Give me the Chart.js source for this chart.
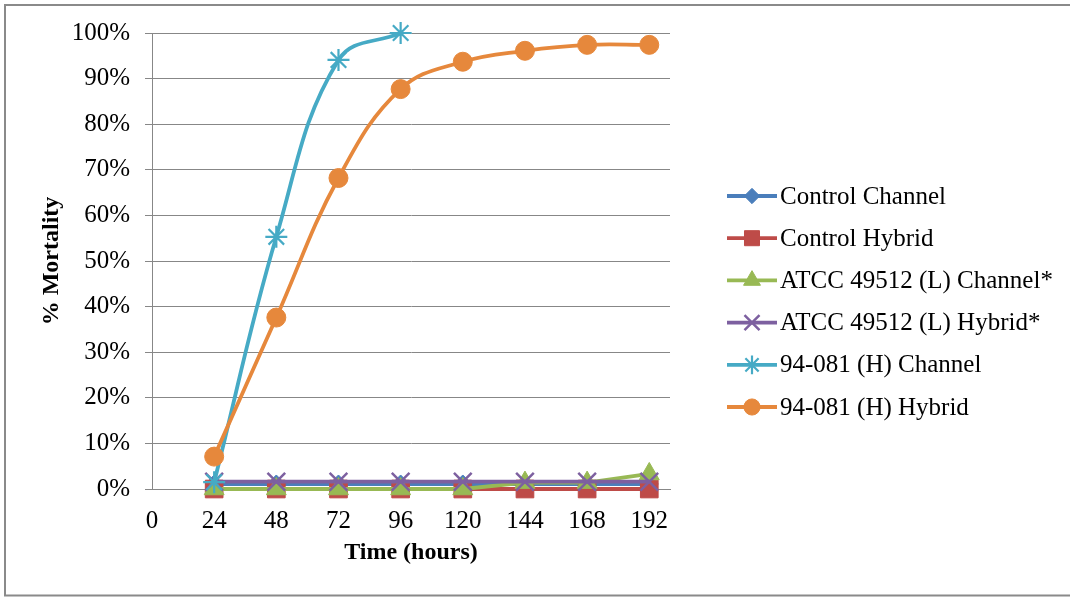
<!DOCTYPE html>
<html>
<head>
<meta charset="utf-8">
<script src="https://cdn.jsdelivr.net/npm/chart.js@4/dist/chart.umd.min.js"></script>
<style>
  html, body { margin: 0; padding: 0; background: #fff; overflow: hidden; }
  canvas { display: block; }
</style>
</head>
<body>
<canvas id="c" width="1070" height="597"></canvas>
<script>
// ---- data ----
const hours = [24, 48, 72, 96, 120, 144, 168, 192];
const xTickLabels = [0, 24, 48, 72, 96, 120, 144, 168, 192];
const seriesNames = [
  "Control Channel",
  "Control Hybrid",
  "ATCC 49512 (L) Channel*",
  "ATCC 49512 (L) Hybrid*",
  "94-081 (H) Channel",
  "94-081 (H) Hybrid"
];
const controlChannel = [1.1, 1.1, 1.1, 1.1, 1.1, 1.1, 1.1, 1.1];
const controlHybrid  = [0, 0, 0, 0, 0, 0, 0, 0];
const atccChannel    = [0, 0, 0, 0, 0, 1.4, 1.4, 3.3];
const atccHybrid     = [1.6, 1.6, 1.6, 1.6, 1.6, 1.6, 1.6, 1.6];
const h94Channel     = [1.5, 55.3, 94.1, 100, null, null, null, null];
const h94Hybrid      = [7.1, 37.6, 68.2, 87.7, 93.7, 96.1, 97.4, 97.4];
const yTicks = [0, 10, 20, 30, 40, 50, 60, 70, 80, 90, 100];

const seriesValues = [controlChannel, controlHybrid, atccChannel, atccHybrid, h94Channel, h94Hybrid];
const colors = ['#4A7EBB', '#BE4B48', '#98B954', '#7D60A0', '#46AAC5', '#E6883C'];
const styles = [
  { pointStyle: 'rectRot', r: 9, bw: 1, tension: 0 },
  { pointStyle: 'rect', r: 12.5, bw: 1, tension: 0 },
  { pointStyle: 'triangle', r: 11.5, bw: 1, tension: 0 },
  { pointStyle: 'crossRot', r: 12.5, bw: 2.5, tension: 0 },
  { pointStyle: 'star', r: 11, bw: 2.2, tension: 0.4 },
  { pointStyle: 'circle', r: 9.5, bw: 1, tension: 0.4 }
];

const FONT = "'Liberation Serif', 'Times New Roman', serif";

const datasets = seriesNames.map((name, i) => ({
  label: name,
  data: hours.map((h, k) => ({ x: h, y: seriesValues[i][k] })).filter(p => p.y !== null),
  borderColor: colors[i],
  backgroundColor: colors[i],
  pointBackgroundColor: colors[i],
  pointBorderColor: colors[i],
  pointStyle: styles[i].pointStyle,
  pointRadius: styles[i].r,
  pointBorderWidth: styles[i].bw,
  borderWidth: 3.8,
  showLine: true,
  clip: false,
  tension: styles[i].tension,
  order: seriesNames.length - i
}));

const framePlugin = {
  id: 'frame',
  beforeDraw(chart) {
    const ctx = chart.ctx;
    ctx.save();
    ctx.strokeStyle = '#8a8a8a';
    ctx.lineWidth = 2;
    ctx.beginPath();
    ctx.moveTo(1070, 5);
    ctx.lineTo(5, 5);
    ctx.lineTo(5, 595.5);
    ctx.lineTo(1070, 595.5);
    ctx.stroke();
    ctx.restore();
  }
};

const legendPlugin = {
  id: 'excelLegend',
  afterDraw(chart) {
    const ctx = chart.ctx;
    const x0 = 727, x1 = 777, tx = 780;
    const y0 = 196, dy = 42.2;
    ctx.save();
    chart.data.datasets.forEach((ds, i) => {
      const y = y0 + i * dy;
      ctx.strokeStyle = ds.borderColor;
      ctx.lineWidth = 3.8;
      ctx.beginPath();
      ctx.moveTo(x0, y);
      ctx.lineTo(x1, y);
      ctx.stroke();
      ctx.fillStyle = ds.backgroundColor;
      ctx.strokeStyle = ds.borderColor;
      ctx.lineWidth = ds.pointBorderWidth;
      Chart.helpers.drawPoint(ctx, { pointStyle: ds.pointStyle, radius: ds.pointRadius * 0.85, rotation: 0, borderWidth: ds.pointBorderWidth }, (x0 + x1) / 2, y);
      ctx.fillStyle = '#000';
      ctx.font = '25px ' + FONT;
      ctx.textBaseline = 'middle';
      ctx.textAlign = 'left';
      ctx.fillText(ds.label, tx, y + 1);
    });
    ctx.restore();
  }
};

new Chart(document.getElementById('c'), {
  type: 'scatter',
  data: { datasets },
  options: {
    responsive: false,
    animation: false,
    devicePixelRatio: 1,
    layout: { padding: { left: 0, top: 33, right: 400, bottom: 0 } },
    plugins: { legend: { display: false }, tooltip: { enabled: false } },
    scales: {
      x: {
        type: 'linear',
        min: 0,
        max: 200,
        afterBuildTicks(scale) {
          scale.ticks = xTickLabels.map(v => ({ value: v }));
        },
        afterFit(scale) { scale.height = 108; },
        grid: { display: false },
        border: { display: true, color: '#878787', width: 1 },
        ticks: { color: '#000', font: { family: FONT, size: 25 }, padding: 9, maxRotation: 0, autoSkip: false },
        title: { display: true, text: 'Time (hours)', color: '#000', font: { family: FONT, size: 24, weight: 'bold' }, padding: { top: 0, bottom: 30 } }
      },
      y: {
        min: 0,
        max: 100,
        afterBuildTicks(scale) {
          scale.ticks = yTicks.map(v => ({ value: v }));
        },
        afterFit(scale) { scale.width = 152; },
        grid: { color: '#878787', lineWidth: 1, drawTicks: true, tickLength: 7 },
        border: { display: true, color: '#878787', width: 1 },
        ticks: { color: '#000', font: { family: FONT, size: 25 }, padding: 15, callback: v => v + '%' },
        title: { display: true, text: '% Mortality', color: '#000', font: { family: FONT, size: 24, weight: 'bold' }, padding: { top: 37, bottom: 0 } }
      }
    }
  },
  plugins: [framePlugin, legendPlugin]
});
</script>
</body>
</html>
